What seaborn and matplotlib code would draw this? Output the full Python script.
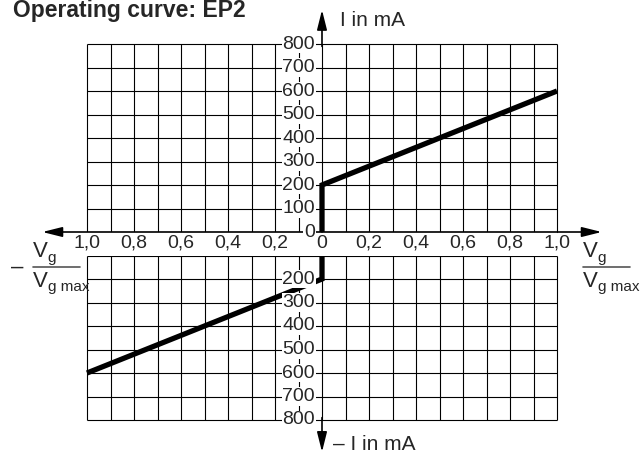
import numpy as np
import seaborn as sns
import matplotlib.pyplot as plt
from matplotlib.lines import Line2D

# operating curve EP2 (relative setpoint vs. current in mA)
curve_pos_x = [0.0, 0.0, 1.0]
curve_pos_y = [0, 200, 600]
curve_neg_x = [0.0, 0.0, -1.0]
curve_neg_y = [0, -200, -600]

grid_x = np.round(np.arange(-1.0, 1.01, 0.1), 2)
grid_y_upper = [0, 100, 200, 300, 400, 500, 600, 700, 800]
grid_y_lower = [-100, -200, -300, -400, -500, -600, -700, -800]

xtick_pos = [-1.0, -0.8, -0.6, -0.4, -0.2, 0.0, 0.2, 0.4, 0.6, 0.8, 1.0]
xtick_lab = ['1,0', '0,8', '0,6', '0,4', '0,2', '0', '0,2', '0,4', '0,6', '0,8', '1,0']
ylab_upper = [0, 100, 200, 300, 400, 500, 600, 700, 800]
ylab_lower = [-200, -300, -400, -500, -600, -700, -800]

sns.set_theme(style='white')
plt.rcParams['font.family'] = ['Liberation Sans', 'DejaVu Sans']
narrow = ['Liberation Sans Narrow', 'Liberation Sans']

fig = plt.figure(figsize=(6.42, 4.55), dpi=100)
ax = fig.add_axes([87/642, 35/455, 470/642, 376/455])
ax.set_xlim(-1, 1)
ax.set_ylim(-800, 800)
ax.axis('off')

# grid
gkw = dict(color='black', linewidth=0.8, zorder=1, clip_on=False)
ax.vlines(grid_x, 0, 800, **gkw)
ax.vlines(grid_x, -800, -100, **gkw)
ax.hlines(grid_y_upper, -1, 1, **gkw)
ax.hlines(grid_y_lower, -1, 1, **gkw)

# curve
for xs, ys in [(curve_pos_x, curve_pos_y), (curve_neg_x, curve_neg_y)]:
    sns.lineplot(x=xs, y=ys, sort=False, estimator=None, color='black',
                 linewidth=3.8, ax=ax, zorder=3)
for ln in ax.lines:
    ln.set_solid_joinstyle('miter')
    ln.set_solid_capstyle('butt')
    ln.set_clip_on(False)

# blank band for x labels
ax.axhspan(-100, 0, color='white', zorder=4, lw=0)

# axes arrows
akw = dict(arrowstyle='-|>,head_length=1.2,head_width=0.3', color='black',
           lw=1.2, shrinkA=0, shrinkB=0, mutation_scale=10)
ax.annotate('', xy=(1.19, 0), xytext=(0, 0), arrowprops=akw, zorder=6, annotation_clip=False)
ax.annotate('', xy=(-1.19, 0), xytext=(0, 0), arrowprops=akw, zorder=6, annotation_clip=False)
ax.annotate('', xy=(0, 945), xytext=(0, 790), arrowprops=akw, zorder=6, annotation_clip=False)
ax.annotate('', xy=(0, -936), xytext=(0, -790), arrowprops=akw, zorder=6, annotation_clip=False)

# tick labels
fs = 14
for v in ylab_upper:
    ax.text(-0.03, v, str(v), ha='right', va='center', fontsize=fs, zorder=7,
            bbox=dict(facecolor='white', edgecolor='none', pad=0.5))
for v in ylab_lower:
    ax.text(-0.03, v, str(-v), ha='right', va='center', fontsize=fs, zorder=7,
            bbox=dict(facecolor='white', edgecolor='none', pad=0.5))
for p, lab in zip(xtick_pos, xtick_lab):
    ax.text(p, -47, lab, ha='center', va='center', fontsize=fs, zorder=7)

ax.text(0.077, 898, 'I in mA', ha='left', va='center', fontsize=15, zorder=7)
ax.text(0.047, -906, '\u2013 I in mA', ha='left', va='center', fontsize=15, zorder=7)

# fraction labels  Vg / Vg max
def vsub(x, y, sub):
    ax.text(x, y, 'V', ha='left', va='baseline', fontsize=16, zorder=7)
    ax.annotate(sub, xy=(x, y), xytext=(10.5, -3.5), textcoords='offset points',
                ha='left', va='baseline', fontsize=11, family=narrow, zorder=7,
                annotation_clip=False)

def fraction(x0, x1, prefix=None):
    vsub(x0, -108, 'g')
    vsub(x0, -232, 'g max')
    ax.add_line(Line2D([x0, x1], [-149, -149], color='#555555', lw=1.2, clip_on=False))
    if prefix:
        ax.text(x0 - 0.04, -149, prefix, ha='right', va='center', fontsize=16, zorder=7)

fraction(1.111, 1.311)
fraction(-1.23, -1.03, '\u2013')

fig.text(13/642, (455-17)/455, 'Operating curve: EP2', fontsize=16.5,
         fontweight='bold', ha='left', va='baseline')

fig.savefig('out.png', dpi=100)
